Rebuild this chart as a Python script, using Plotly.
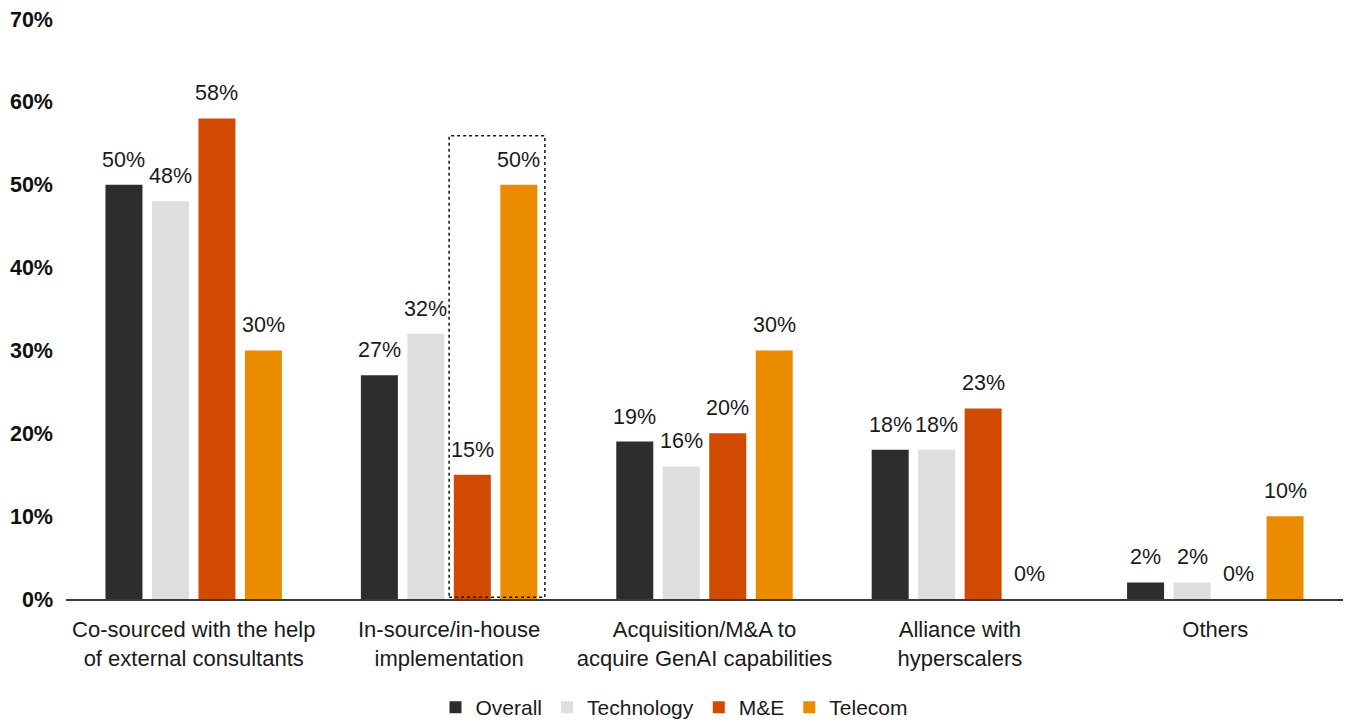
import plotly.graph_objects as go

categories = [
    "Co-sourced with the help<br>of external consultants",
    "In-source/in-house<br>implementation",
    "Acquisition/M&A to<br>acquire GenAI capabilities",
    "Alliance with<br>hyperscalers",
    "Others",
]
overall = [50, 27, 19, 18, 2]
technology = [48, 32, 16, 18, 2]
m_and_e = [58, 15, 20, 23, 0]
telecom = [30, 50, 30, 0, 10]

series = [
    ("Overall", overall, "#2d2d2d"),
    ("Technology", technology, "#dedede"),
    ("M&E", m_and_e, "#d04a02"),
    ("Telecom", telecom, "#eb8c00"),
]

FONT = "Liberation Sans, Arial, Helvetica, sans-serif"
BARGAP = 0.272
BARGROUPGAP = 0.204
slot = (1 - BARGAP) / len(series)

fig = go.Figure()
annotations = []
for i, (name, vals, color) in enumerate(series):
    fig.add_trace(go.Bar(
        name=name,
        x=categories,
        y=vals,
        marker=dict(color=color, line=dict(width=0)),
    ))
    # value labels above each bar
    for j, v in enumerate(vals):
        annotations.append(dict(
            x=j + (i - (len(series) - 1) / 2) * slot,
            y=v,
            xref="x", yref="y",
            text=f"{v}%",
            showarrow=False,
            yanchor="bottom",
            yshift=11,
            font=dict(family=FONT, size=21.5, color="#1a1a1a"),
        ))

# dotted highlight around M&E and Telecom in the in-house group
fig.add_shape(
    type="rect", xref="x", yref="y",
    x0=1.0, x1=1.375, y0=0.2, y1=55.9,
    line=dict(color="#111111", width=1.5, dash="dot"),
    fillcolor="rgba(0,0,0,0)",
    layer="above",
)

fig.update_layout(
    width=1348, height=722,
    margin=dict(l=66, r=5, t=19, b=123, autoexpand=False),
    paper_bgcolor="white",
    plot_bgcolor="white",
    barmode="group",
    bargap=BARGAP,
    bargroupgap=BARGROUPGAP,
    font=dict(family=FONT, size=21, color="#1a1a1a"),
    annotations=annotations,
    showlegend=True,
    legend=dict(
        orientation="h",
        x=0.5, xanchor="center", xref="container",
        y=0.02, yanchor="middle", yref="container",
        font=dict(family=FONT, size=21, color="#1a1a1a"),
        itemwidth=30,
        tracegroupgap=0,
        traceorder="normal",
    ),
    xaxis=dict(
        type="category",
        range=[-0.5, 4.5],
        showgrid=False,
        showline=True,
        linecolor="#3a3a3a",
        linewidth=2,
        ticks="",
        ticklabelstandoff=10,
        automargin=False,
        tickfont=dict(family=FONT, size=22, color="#1a1a1a"),
    ),
    yaxis=dict(
        range=[0, 70],
        dtick=10,
        ticksuffix="%",
        showgrid=False,
        zeroline=False,
        showline=False,
        ticks="",
        ticklabelstandoff=12,
        automargin=False,
        tickfont=dict(family=FONT, size=21.5, color="#111111", weight="bold"),
    ),
)

fig.write_html("out.html")
